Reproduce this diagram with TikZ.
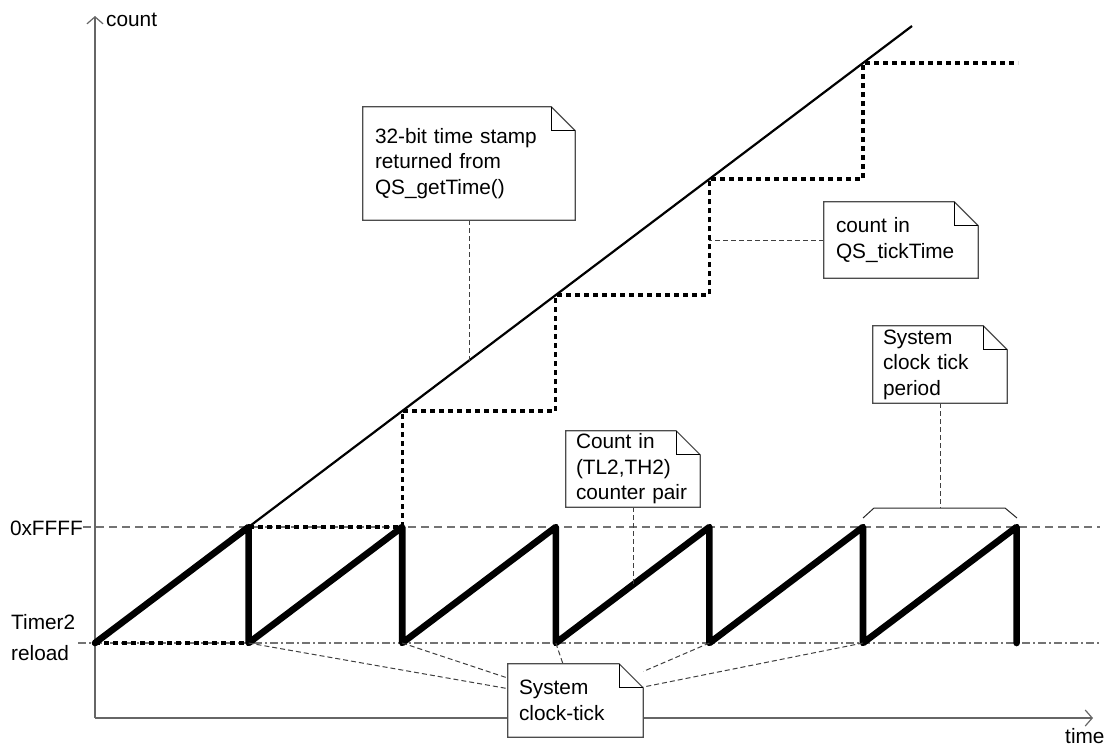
\documentclass[tikz,border=0pt]{standalone}
\usepackage{fontspec}
\setmainfont{Liberation Sans}
\usetikzlibrary{arrows.meta}
\pgfdeclarelayer{bg}
\pgfsetlayers{bg,main}
\newcommand{\foldnote}[1]{%
  \draw[noteline] ([xshift=-24pt]#1.north east) -- (#1.north west) -- (#1.south west) -- (#1.south east) -- ([yshift=-24pt]#1.north east) -- cycle;
  \draw[foldline] ([xshift=-24pt]#1.north east) |- ([yshift=-24pt]#1.north east);
}
\tikzset{
  txt/.style={inner sep=0pt, font=\fontsize{20.8pt}{25.5pt}\selectfont},
  notebox/.style n args={3}{txt, fill=white, align=left, text width=#1, inner xsep=#2, inner ysep=0pt, minimum height=#3},
  noteline/.style={draw=black!70, line width=1.2pt},
  foldline/.style={draw=black, line width=1.2pt},
  axis/.style={draw=black!60, line width=1.5pt},
  axtip/.style={-{Straight Barb[length=7pt,width=16pt,line width=1.2pt]}},
  guide/.style={draw=black!55, line width=1.5pt, dash pattern=on 8pt off 5pt},
  reload/.style={draw=black!55, line width=1.2pt, dash pattern=on 8pt off 3pt on 2pt off 3pt},
  saw/.style={draw=black, line width=6.6pt, line cap=round, line join=round},
  stair/.style={draw=black, line width=3.2pt, dash pattern=on 5pt off 4pt},
  stamp/.style={draw=black, line width=2.2pt},
  conn/.style={draw=black!75, line width=1pt, dash pattern=on 5pt off 3pt},
  bracket/.style={draw=black!85, line width=1pt}
}
\begin{document}
\begin{tikzpicture}[x=1pt,y=-1pt]
\useasboundingbox (0,0) rectangle (1107,748);

% key coordinates
\coordinate (o) at (95,718);
\coordinate (ytip) at (95,16);
\coordinate (xtip) at (1093,718);
\coordinate (t0) at (95,643);
\coordinate (t1) at (248.6,643);
\coordinate (t2) at (402.2,643);
\coordinate (t3) at (555.8,643);
\coordinate (t4) at (709.4,643);
\coordinate (t5) at (863,643);
\coordinate (t6) at (1016.6,643);
\coordinate (h1) at (248.6,527);
\coordinate (h2) at (402.2,527);
\coordinate (h3) at (555.8,527);
\coordinate (h4) at (709.4,527);
\coordinate (h5) at (863,527);
\coordinate (h6) at (1016.6,527);
\coordinate (lend) at (912,26);
\coordinate (ffend) at (1100,527);
\coordinate (rlstart) at (78,643);
\coordinate (rlend) at (1100,643);
\coordinate (p32) at (469,360.6);
\coordinate (pq) at (709.4,240);
\coordinate (pc) at (633,584.7);
\coordinate (b1) at (863,518);
\coordinate (b2) at (874,508);
\coordinate (bmid) at (940,508);
\coordinate (b3) at (1005,508);
\coordinate (b4) at (1017,518);

% labels
\node[txt, anchor=base west] (lcount) at (106,26) {count};
\node[txt, anchor=base west] (ltime) at (1065,743) {time};
\node[txt, anchor=base east] (lff) at (83,535) {0xFFFF};
\node[txt, anchor=west, align=left, font=\fontsize{20.8pt}{31pt}\selectfont] (lreload) at (11,638) {Timer2\\reload};

% notes
\node[notebox={188pt}{12pt}{113pt}] (n32) at (469,163.5) {32-bit time stamp\\returned from\\QS\_getTime()};
\node[notebox={130pt}{12pt}{76pt}] (ntick) at (901,240) {count in\\QS\_tickTime};
\node[notebox={114pt}{10pt}{77pt}] (nperiod) at (940,364.5) {System\\clock tick\\period};
\node[notebox={114pt}{10pt}{76pt}] (ncount) at (633,469) {Count in\\(TL2,TH2)\\counter pair};
\node[notebox={113pt}{11pt}{73pt}] (nsys) at (575.5,700.5) {System\\clock-tick};
\foldnote{n32}
\foldnote{ntick}
\foldnote{nperiod}
\foldnote{ncount}
\foldnote{nsys}

\begin{pgfonlayer}{bg}
  % axes
  \draw[axis, axtip] (o) -- (ytip);
  \draw[axis, axtip] (o) -- (xtip);
  % guides
  \draw[guide] (lff.east |- h1) -- (ffend);
  \draw[reload] (rlstart) -- (rlend);
  % staircase
  \draw[stair] (t0) -- (t1) -- (h1) -- (h2) -- (402.2,411) -- (555.8,411) -- (555.8,295) -- (709.4,295) -- (709.4,179) -- (863,179) -- (863,63) -- (1018,63);
  % time stamp line
  \draw[stamp] (t0) -- (lend);
  % sawtooth
  \draw[saw] (t0) -- (h1) -- (t1) -- (h2) -- (t2) -- (h3) -- (t3) -- (h4) -- (t4) -- (h5) -- (t5) -- (h6) -- (t6);
  % bracket
  \draw[bracket] (b1) -- (b2) -- (b3) -- (b4);
  % connectors
  \draw[conn] (n32.south) -- (p32);
  \draw[conn] (ntick.west) -- (pq);
  \draw[conn] (ncount.south) -- (pc);
  \draw[conn] (nperiod.south) -- (bmid);
  \foreach \i in {1,...,5} \draw[conn] (t\i) -- (nsys);
\end{pgfonlayer}
\end{tikzpicture}
\end{document}
